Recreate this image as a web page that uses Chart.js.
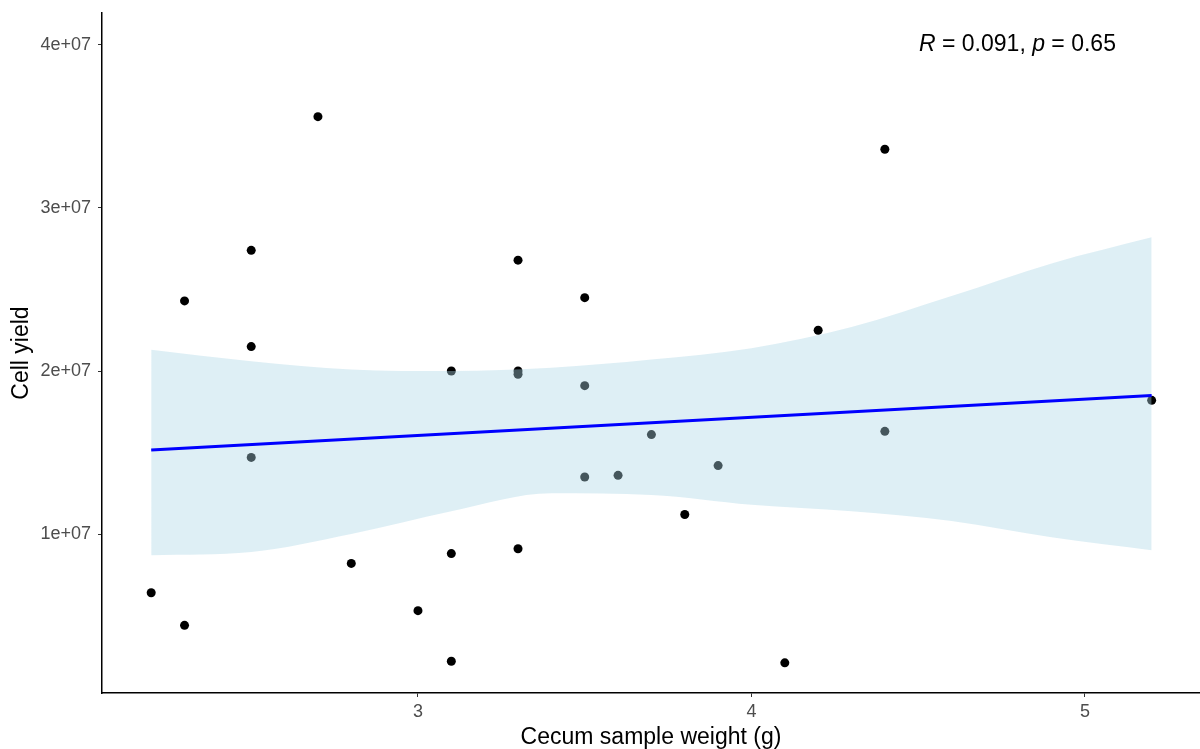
<!DOCTYPE html>
<html>
<head>
<meta charset="utf-8">
<script src="https://cdn.jsdelivr.net/npm/chart.js@4"></script>
<style>
  body { margin: 0; background: #fff; }
  #wrap { width: 1200px; height: 749px; }
</style>
</head>
<body>
<div id="wrap"><canvas id="chart" width="1200" height="749"></canvas></div>
<script>
// ----------------- Data -----------------
const weight = [2.2, 2.3, 2.3, 2.5, 2.5, 2.5, 2.7, 2.8, 3.0, 3.1, 3.1, 3.1, 3.3, 3.3,
                3.3, 3.3, 3.5, 3.5, 3.5, 3.6, 3.7, 3.8, 3.9, 4.1, 4.2, 4.4, 4.4, 5.2];
const cellYield = [6.4e6, 2.43e7, 4.4e6, 2.74e7, 2.15e7, 1.47e7, 3.56e7, 8.2e6, 5.3e6, 2.0e7,
                   8.8e6, 2.2e6, 2.68e7, 2.0e7, 1.98e7, 9.1e6, 2.45e7, 1.91e7, 1.35e7, 1.36e7,
                   1.61e7, 1.12e7, 1.42e7, 2.1e6, 2.25e7, 3.36e7, 1.63e7, 1.82e7];

// fitted line
const fitX = [2.2, 5.2];
const fitY = [1.515e7, 1.85e7];

// confidence band
const bandX = [2.2, 2.5, 2.8, 3.1, 3.4, 3.7, 4.0, 4.3, 4.6, 4.9, 5.2];
const bandUpper = [2.13e7, 2.06e7, 2.01e7, 2.0e7, 2.02e7, 2.07e7, 2.14e7, 2.27e7, 2.46e7, 2.66e7, 2.82e7];
const bandLower = [0.87e7, 0.89e7, 1.0e7, 1.14e7, 1.25e7, 1.24e7, 1.18e7, 1.14e7, 1.08e7, 0.98e7, 0.90e7];

const xTicks = [3, 4, 5];
const yTicks = [1e7, 2e7, 3e7, 4e7];

const statLabel = [
  { text: 'R', italic: true },
  { text: ' = 0.091, ', italic: false },
  { text: 'p', italic: true },
  { text: ' = 0.65', italic: false }
];

// ----------------- Helpers -----------------
const FONT = "'Liberation Sans', Arial, sans-serif";
const pts = (xs, ys) => xs.map((x, i) => ({ x, y: ys[i] }));

function sciLabel(v) {
  const [m, e] = v.toExponential().split('e');
  const sign = e[0];
  const digits = e.slice(1).padStart(2, '0');
  return `${m}e${sign}${digits}`;
}

// annotation text with italic R and p
const statPlugin = {
  id: 'statText',
  afterDraw(chart) {
    const ctx = chart.ctx;
    ctx.save();
    ctx.fillStyle = '#000';
    ctx.textBaseline = 'middle';
    let x = 919;
    const y = 45;
    statLabel.forEach(seg => {
      ctx.font = `${seg.italic ? 'italic ' : ''}23px ${FONT}`;
      ctx.fillText(seg.text, x, y);
      x += ctx.measureText(seg.text).width;
    });
    ctx.restore();
  }
};

// ----------------- Chart -----------------
new Chart(document.getElementById('chart').getContext('2d'), {
  type: 'scatter',
  data: {
    datasets: [
      {
        label: 'fit',
        data: pts(fitX, fitY),
        showLine: true,
        borderColor: '#0000ff',
        borderWidth: 3,
        pointRadius: 0,
        order: 0
      },
      {
        label: 'lower',
        data: pts(bandX, bandLower),
        showLine: true,
        borderWidth: 0,
        borderColor: 'rgba(0,0,0,0)',
        pointRadius: 0,
        cubicInterpolationMode: 'monotone',
        fill: false,
        order: 1
      },
      {
        label: 'upper',
        data: pts(bandX, bandUpper),
        showLine: true,
        borderWidth: 0,
        borderColor: 'rgba(0,0,0,0)',
        pointRadius: 0,
        cubicInterpolationMode: 'monotone',
        fill: '-1',
        backgroundColor: 'rgba(173,216,230,0.4)',
        order: 1
      },
      {
        label: 'samples',
        data: pts(weight, cellYield),
        backgroundColor: '#000',
        borderWidth: 0,
        pointRadius: 4.5,
        order: 2
      }
    ]
  },
  options: {
    responsive: false,
    animation: false,
    layout: { padding: { top: 13, right: 0, left: 0, bottom: 0 }, autoPadding: false },
    plugins: {
      legend: { display: false },
      tooltip: { enabled: false }
    },
    scales: {
      x: {
        type: 'linear',
        min: 2.0525,
        max: 5.345,
        afterBuildTicks: s => { s.ticks = xTicks.map(v => ({ value: v })); },
        afterFit: s => { s.height = 56; },
        grid: { drawOnChartArea: false, drawTicks: true, tickLength: 4, color: '#333', lineWidth: 1 },
        border: { display: true, color: '#000', width: 1.5 },
        ticks: { color: '#4d4d4d', font: { family: FONT, size: 18 }, padding: 4 },
        title: { display: true, text: 'Cecum sample weight (g)', color: '#000', font: { family: FONT, size: 23, lineHeight: 1 }, padding: 0 }
      },
      y: {
        type: 'linear',
        min: 2.5e5,
        max: 4.196e7,
        afterBuildTicks: s => { s.ticks = yTicks.map(v => ({ value: v })); },
        afterFit: s => { s.width = 102; s.paddingTop = 0; s.paddingBottom = 0; },
        grid: { drawOnChartArea: false, drawTicks: true, tickLength: 4, color: '#333', lineWidth: 1 },
        border: { display: true, color: '#000', width: 1.5 },
        ticks: { color: '#4d4d4d', font: { family: FONT, size: 18 }, padding: 7, callback: v => sciLabel(v) },
        title: { display: true, text: 'Cell yield', color: '#000', font: { family: FONT, size: 23, lineHeight: 1 }, padding: { top: 10, bottom: 0 } }
      }
    }
  },
  plugins: [statPlugin]
});
</script>
</body>
</html>
